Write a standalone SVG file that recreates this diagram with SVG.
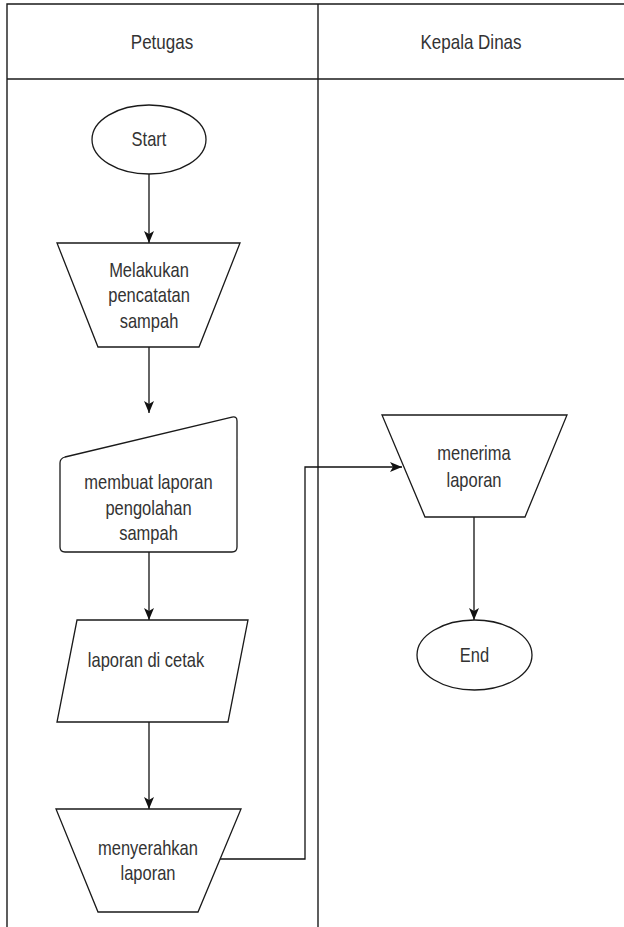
<svg xmlns="http://www.w3.org/2000/svg" width="624" height="927" viewBox="0 0 624 927">
  <style>
    .lane { fill: none; stroke: #1a1a1a; stroke-width: 1.4; }
    .shape { fill: #ffffff; stroke: #1a1a1a; stroke-width: 1.3; }
    .edge { fill: none; stroke: #111111; stroke-width: 1.3; }
    .lbl { font-family: "Liberation Sans", Arial, sans-serif; font-size: 16.5px; fill: #333333; text-anchor: middle; }
    .hdr { font-family: "Liberation Sans", Arial, sans-serif; font-size: 17px; fill: #333333; text-anchor: middle; }
  </style>
  <defs>
    <marker id="arrow" markerUnits="userSpaceOnUse" markerWidth="13" markerHeight="11" refX="12" refY="5" orient="auto">
      <path d="M0,0 L12,5 L0,10 L3,5 Z" fill="#111111"/>
    </marker>
  </defs>

  <rect width="624" height="927" fill="#ffffff"/>

  <!-- swimlane pool -->
  <g id="pool">
    <path class="lane" d="M7,927 V4 H630"/>
    <line class="lane" x1="7" y1="79" x2="630" y2="79"/>
    <line class="lane" x1="318" y1="4" x2="318" y2="927"/>
    <text class="hdr" transform="translate(162,49) scale(1,1.22)">Petugas</text>
    <text class="hdr" transform="translate(471,49) scale(1,1.22)">Kepala Dinas</text>
  </g>

  <!-- connectors -->
  <g id="connectors">
    <line class="edge" x1="149" y1="174" x2="149" y2="243" marker-end="url(#arrow)"/>
    <line class="edge" x1="149" y1="347" x2="149" y2="413" marker-end="url(#arrow)"/>
    <line class="edge" x1="149" y1="552" x2="149" y2="620" marker-end="url(#arrow)"/>
    <line class="edge" x1="149" y1="722" x2="149" y2="809" marker-end="url(#arrow)"/>
    <path class="edge" d="M220,859 H305 V467 H402" marker-end="url(#arrow)"/>
    <line class="edge" x1="474" y1="517" x2="474" y2="620" marker-end="url(#arrow)"/>
  </g>

  <g id="start">
    <ellipse class="shape" cx="149" cy="139.5" rx="57" ry="34.5"/>
    <text class="lbl" transform="translate(149,146) scale(1,1.22)">Start</text>
  </g>

  <g id="melakukan-pencatatan">
    <path class="shape" d="M57,243 H240 L199,347 H98 Z"/>
    <text class="lbl" transform="translate(149,277) scale(1,1.22)">Melakukan</text>
    <text class="lbl" transform="translate(149,302) scale(1,1.22)">pencatatan</text>
    <text class="lbl" transform="translate(149,328) scale(1,1.22)">sampah</text>
  </g>

  <g id="membuat-laporan">
    <path class="shape" d="M60,463 Q60,458.5 65,457 L232,417.2 Q237,416 237,421 V547 Q237,552 232,552 H65 Q60,552 60,547 Z"/>
    <text class="lbl" transform="translate(148.5,489) scale(1,1.22)">membuat laporan</text>
    <text class="lbl" transform="translate(148.5,515) scale(1,1.22)">pengolahan</text>
    <text class="lbl" transform="translate(148.5,540) scale(1,1.22)">sampah</text>
  </g>

  <g id="laporan-dicetak">
    <path class="shape" d="M77,620 H248 L228,722 H57 Z"/>
    <text class="lbl" transform="translate(146,667) scale(1,1.22)">laporan di cetak</text>
  </g>

  <g id="menyerahkan-laporan">
    <path class="shape" d="M56,809 H241 L198,912 H98 Z"/>
    <text class="lbl" transform="translate(148,855) scale(1,1.22)">menyerahkan</text>
    <text class="lbl" transform="translate(148,880) scale(1,1.22)">laporan</text>
  </g>

  <g id="menerima-laporan">
    <path class="shape" d="M382,415 H567 L525,517 H425 Z"/>
    <text class="lbl" transform="translate(474,460) scale(1,1.22)">menerima</text>
    <text class="lbl" transform="translate(474,487) scale(1,1.22)">laporan</text>
  </g>

  <g id="end">
    <ellipse class="shape" cx="474.5" cy="655" rx="57.5" ry="35"/>
    <text class="lbl" transform="translate(474.5,662) scale(1,1.22)">End</text>
  </g>
</svg>
